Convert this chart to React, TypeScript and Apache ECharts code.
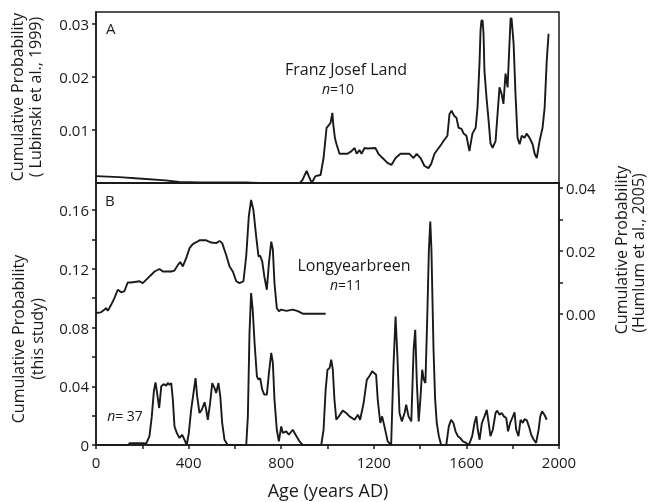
import React, { useEffect, useRef } from "react";
import * as echarts from "echarts";

// Franz Josef Land (panel A)
const fjlYears = [0, 100, 200, 300, 360, 450, 550, 650, 700, 880, 892, 910, 920, 932, 948, 970, 983, 996, 1004, 1013, 1021, 1025, 1032, 1039, 1052, 1086, 1104, 1117, 1126, 1138, 1147, 1160, 1173, 1207, 1220, 1238, 1259, 1276, 1294, 1315, 1354, 1372, 1385, 1402, 1419, 1436, 1448, 1462, 1492, 1501, 1518, 1527, 1536, 1548, 1557, 1566, 1579, 1588, 1600, 1613, 1626, 1640, 1648, 1657, 1661, 1665, 1670, 1674, 1678, 1687, 1696, 1704, 1713, 1726, 1743, 1752, 1760, 1769, 1778, 1786, 1791, 1795, 1804, 1812, 1821, 1830, 1839, 1851, 1860, 1873, 1886, 1895, 1904, 1916, 1929, 1938, 1947, 1955];
const fjlValues = [0.0013, 0.0011, 0.0008, 0.0005, 0.0002, 0.0001, 0.0001, 0.0001, 0, 0, 0.0006, 0.0023, 0.0012, 0, 0.0013, 0.0015, 0.0047, 0.0104, 0.0108, 0.0113, 0.0132, 0.011, 0.0085, 0.0073, 0.0055, 0.0055, 0.006, 0.0066, 0.0055, 0.0062, 0.0055, 0.0066, 0.0065, 0.0066, 0.0055, 0.0047, 0.0038, 0.0034, 0.0047, 0.0055, 0.0055, 0.0047, 0.0055, 0.0047, 0.0032, 0.0028, 0.0036, 0.0055, 0.0073, 0.0079, 0.0089, 0.013, 0.0136, 0.0126, 0.0123, 0.0104, 0.0102, 0.0093, 0.0089, 0.006, 0.0093, 0.0104, 0.0142, 0.023, 0.0287, 0.0306, 0.0306, 0.0281, 0.0211, 0.016, 0.0117, 0.0075, 0.0066, 0.0079, 0.018, 0.0168, 0.0149, 0.0206, 0.018, 0.0262, 0.031, 0.031, 0.0262, 0.0168, 0.0085, 0.0073, 0.0089, 0.0085, 0.0093, 0.0085, 0.0073, 0.0055, 0.0047, 0.0079, 0.0104, 0.0142, 0.023, 0.0281];

// Longyearbreen (Humlum et al., 2005) – right axis of panel B
const lybYears = [0, 20, 37, 44, 51, 66, 80, 94, 109, 123, 137, 152, 188, 202, 224, 253, 274, 289, 325, 339, 354, 364, 375, 390, 404, 418, 433, 447, 476, 498, 519, 534, 545, 562, 577, 591, 606, 620, 637, 649, 660, 670, 680, 692, 702, 709, 718, 727, 738, 747, 757, 764, 771, 781, 790, 800, 822, 850, 872, 893, 992];
const lybValues = [0.0003, 0.0005, 0.0014, 0.0019, 0.001, 0.003, 0.0051, 0.0077, 0.0069, 0.0073, 0.01, 0.01, 0.0104, 0.0098, 0.0114, 0.0135, 0.0143, 0.0135, 0.0135, 0.0138, 0.0156, 0.0165, 0.0151, 0.0178, 0.0209, 0.0222, 0.0228, 0.0234, 0.0234, 0.0227, 0.0225, 0.0232, 0.0225, 0.0188, 0.0151, 0.0135, 0.0104, 0.0098, 0.0104, 0.0185, 0.031, 0.0362, 0.033, 0.0246, 0.0183, 0.0185, 0.0167, 0.012, 0.0077, 0.0162, 0.023, 0.0204, 0.0098, 0.0019, 0.0009, 0.0014, 0.001, 0.0014, 0.0009, 0.0001, 0.0001];

// This study (n = 37) – left axis of panel B
const studyYears = [0, 140, 145, 205, 217, 231, 241, 250, 257, 264, 273, 282, 292, 303, 310, 318, 325, 332, 339, 349, 361, 372, 382, 392, 401, 411, 421, 430, 437, 447, 457, 469, 476, 483, 493, 502, 512, 519, 529, 537, 545, 555, 569, 649, 656, 663, 670, 677, 685, 695, 702, 709, 718, 727, 738, 747, 757, 764, 771, 781, 790, 800, 807, 822, 833, 850, 862, 879, 893, 973, 983, 992, 1000, 1009, 1016, 1023, 1030, 1038, 1049, 1066, 1081, 1095, 1117, 1131, 1141, 1156, 1170, 1182, 1193, 1210, 1217, 1228, 1236, 1246, 1260, 1275, 1285, 1294, 1302, 1311, 1321, 1333, 1340, 1350, 1362, 1372, 1379, 1386, 1394, 1402, 1409, 1416, 1423, 1431, 1438, 1444, 1449, 1458, 1465, 1472, 1481, 1491, 1513, 1524, 1534, 1544, 1553, 1563, 1573, 1585, 1599, 1611, 1625, 1635, 1643, 1649, 1657, 1667, 1678, 1688, 1696, 1704, 1714, 1726, 1733, 1743, 1753, 1762, 1772, 1780, 1789, 1798, 1808, 1815, 1825, 1834, 1844, 1851, 1861, 1870, 1880, 1891, 1901, 1912, 1919, 1927, 1937, 1947];
const studyValues = [0, 0, 0.0012, 0.0012, 0.001, 0.006, 0.0195, 0.0366, 0.0427, 0.0354, 0.0252, 0.04, 0.0415, 0.0404, 0.0422, 0.0411, 0.0422, 0.0309, 0.0127, 0.0082, 0.0048, 0.007, 0.0036, 0, 0.0082, 0.024, 0.0354, 0.0456, 0.0331, 0.0218, 0.024, 0.0291, 0.024, 0.0172, 0.0286, 0.0422, 0.0388, 0.0354, 0.0422, 0.0331, 0.015, 0.0036, 0, 0, 0.0195, 0.076, 0.1035, 0.092, 0.0695, 0.0468, 0.0445, 0.0456, 0.0377, 0.0343, 0.0343, 0.049, 0.0627, 0.0559, 0.0309, 0.0104, 0.0025, 0.0127, 0.0082, 0.0093, 0.007, 0.0104, 0.007, 0.0025, 0, 0, 0.0104, 0.0377, 0.0513, 0.0524, 0.0581, 0.0513, 0.0309, 0.0172, 0.0195, 0.0234, 0.0218, 0.0195, 0.0172, 0.0206, 0.0172, 0.0286, 0.0445, 0.0472, 0.0502, 0.0479, 0.0309, 0.015, 0.0195, 0.0127, 0.0025, 0, 0.0536, 0.0876, 0.0604, 0.0218, 0.0161, 0.0218, 0.0274, 0.0195, 0.0161, 0.0649, 0.0785, 0.0422, 0.0161, 0.0331, 0.0513, 0.0445, 0.0422, 0.0876, 0.133, 0.1523, 0.133, 0.0649, 0.0309, 0.015, 0.006, 0, 0, 0.0127, 0.0172, 0.015, 0.0093, 0.006, 0.0048, 0.0025, 0.0014, 0, 0.006, 0.015, 0.0195, 0.0104, 0.0036, 0.015, 0.0195, 0.024, 0.015, 0.006, 0.0104, 0.0218, 0.0234, 0.0206, 0.0218, 0.0195, 0.0184, 0.0093, 0.015, 0.0184, 0.0222, 0.0104, 0.006, 0.0172, 0.015, 0.0177, 0.0168, 0.0127, 0.007, 0.0036, 0.0014, 0.0104, 0.0195, 0.0229, 0.0206, 0.0172];

const xLabelValues = [0, 400, 800, 1200, 1600, 2000];
const topTickValues = [0.01, 0.02, 0.03];
const leftLabelValues = [0, 0.04, 0.08, 0.12, 0.16];
const leftTickValues = [0, 0.02, 0.04, 0.06, 0.08, 0.1, 0.12, 0.14, 0.16];
const rightLabelValues = [0, 0.02, 0.04];
const rightTickValues = [0, 0.01, 0.02, 0.03, 0.04];

const FONT = "Open Sans";
const INK = "#1a1a1a";

const zip = (xs: number[], ys: number[]) => xs.map((x, i) => [x, ys[i]]);

export default function App() {
  const ref = useRef<HTMLDivElement>(null);
  useEffect(() => {
    if (!ref.current) return;
    const chart = echarts.init(ref.current, null, { renderer: "svg" });
    const axisLine = { show: true, lineStyle: { color: INK, width: 1.5 } };
    const label = { color: INK, fontSize: 15, fontFamily: FONT };
    const lineSeries = { type: "line", showSymbol: false, symbol: "none", lineStyle: { color: INK, width: 1.9 }, silent: true };
    const txt = (text: string, x: number, y: number, size: number, rotate = false, align = "center") => ({
      type: "text", x, y, rotation: rotate ? Math.PI / 2 : 0,
      style: {
        text, fontSize: size, lineHeight: size, fontFamily: FONT, fill: INK, textAlign: align, textVerticalAlign: "middle",
        rich: { i: { fontStyle: "italic", fontSize: size, lineHeight: size, fontFamily: FONT, fill: INK } },
      },
    });
    chart.setOption({
      animation: false,
      textStyle: { fontFamily: FONT },
      grid: [
        { left: 96, top: 12, width: 463, height: 171, show: true, borderColor: INK, borderWidth: 1.5, containLabel: false },
        { left: 96, top: 183, width: 463, height: 262, show: true, borderColor: INK, borderWidth: 1.5, containLabel: false },
      ],
      xAxis: [
        { type: "value", gridIndex: 0, min: 0, max: 2000, axisLine, axisTick: { show: false }, axisLabel: { show: false }, splitLine: { show: false } },
        {
          type: "value", gridIndex: 1, min: 0, max: 2000, interval: 200, axisLine,
          axisTick: { show: true, length: 4, lineStyle: { color: INK, width: 1.5 } },
          axisLabel: { ...label, margin: 9, customValues: xLabelValues, formatter: (v: number) => String(v) },
          splitLine: { show: false },
        },
      ],
      yAxis: [
        {
          type: "value", gridIndex: 0, min: 0, max: 0.0322, axisLine,
          axisTick: { show: true, length: 4, customValues: topTickValues, lineStyle: { color: INK, width: 1.5 } },
          axisLabel: { ...label, margin: 7, customValues: topTickValues, formatter: (v: number) => v.toFixed(2) },
          splitLine: { show: false },
        },
        {
          type: "value", gridIndex: 1, min: 0, max: 0.1785, axisLine,
          axisTick: { show: true, length: 4, customValues: leftTickValues, lineStyle: { color: INK, width: 1.5 } },
          axisLabel: { ...label, margin: 7, customValues: leftLabelValues, formatter: (v: number) => (v === 0 ? "0" : v.toFixed(2)) },
          splitLine: { show: false },
        },
        {
          type: "value", gridIndex: 1, position: "right", min: -0.0416, max: 0.0416, axisLine,
          axisTick: { show: true, length: 4, customValues: rightTickValues, lineStyle: { color: INK, width: 1.5 } },
          axisLabel: { ...label, margin: 7, customValues: rightLabelValues, formatter: (v: number) => v.toFixed(2) },
          splitLine: { show: false },
        },
      ],
      series: [
        { ...lineSeries, name: "Franz Josef Land", xAxisIndex: 0, yAxisIndex: 0, data: zip(fjlYears, fjlValues) },
        { ...lineSeries, name: "This study", xAxisIndex: 1, yAxisIndex: 1, data: zip(studyYears, studyValues) },
        { ...lineSeries, name: "Longyearbreen", xAxisIndex: 1, yAxisIndex: 2, data: zip(lybYears, lybValues) },
      ],
      graphic: [
        txt("Cumulative Probability", 17, 97, 16, true),
        txt("( Lubinski et al., 1999)", 35, 97, 16, true),
        txt("Cumulative Probability", 18, 339, 16, true),
        txt("(this study)", 37, 339, 16, true),
        txt("Cumulative Probability", 621, 250, 16, true),
        txt("(Humlum et al., 2005)", 638, 253, 16, true),
        txt("Age (years AD)", 328, 490, 18),
        txt("A", 106, 28, 15, false, "left"),
        txt("B", 105, 200, 15, false, "left"),
        txt("Franz Josef Land", 346, 69, 16),
        txt("{i|n}=10", 338, 88, 14),
        txt("Longyearbreen", 354, 265, 16),
        txt("{i|n}=11", 346, 284, 14),
        txt("{i|n}= 37", 125, 415, 14),
      ],
    });
    return () => chart.dispose();
  }, []);
  return <div ref={ref} style={{ position: "fixed", left: 0, top: 0, width: 649, height: 502 }} />;
}
